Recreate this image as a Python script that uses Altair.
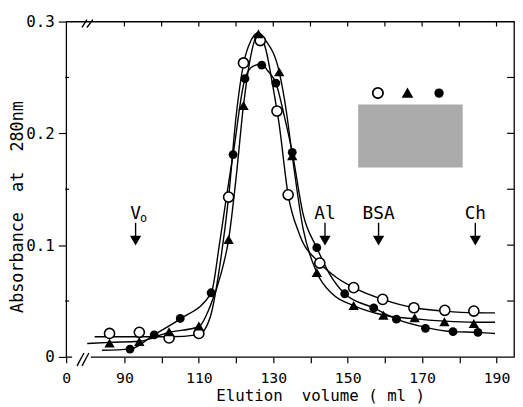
import altair as alt
import pandas as pd

FONT = "DejaVu Sans Mono"
W, H = 454, 340
NB = "\u00a0"

# x axis is broken: its left end stands for 0 ml
X_MIN, X_MAX = 74.35, 194.7
Y_MIN, Y_MAX = 0.0, 0.3

# ---- measured points -------------------------------------------------------
open_x = [86, 94, 102, 110, 118, 122, 126.5, 131, 134, 142.5, 151.6, 159.4, 167.8, 176.1, 183.9]
open_y = [0.021, 0.022, 0.017, 0.021, 0.143, 0.263, 0.283, 0.220, 0.145, 0.084, 0.062, 0.0515, 0.044, 0.0417, 0.041]

tri_x = [86, 94, 102, 110, 118, 122, 126, 131.6, 135.1, 141.7, 151.6, 159.6, 168, 176, 183.9]
tri_y = [0.0124, 0.0138, 0.0226, 0.0276, 0.105, 0.225, 0.289, 0.255, 0.18, 0.0756, 0.046, 0.0373, 0.035, 0.0315, 0.030]

fill_x = [91.5, 98, 105, 113.3, 119.2, 122.4, 126.9, 130.7, 135.1, 141.7, 149.2, 157, 163.1, 170.9, 178.3, 185]
fill_y = [0.007, 0.0197, 0.0344, 0.0574, 0.181, 0.249, 0.261, 0.245, 0.183, 0.0977, 0.0565, 0.0438, 0.0338, 0.0256, 0.0226, 0.022]

# ---- drawn curves ----------------------------------------------------------
curve_open_x = [82, 102, 110, 113, 116, 118, 120, 122, 124, 126, 128, 130, 131.5, 134, 137, 142.5, 147, 151.6, 159.4, 167.8, 176, 184, 189.6]
curve_open_y = [0.018, 0.018, 0.020, 0.035, 0.09, 0.143, 0.215, 0.262, 0.283, 0.290, 0.275, 0.240, 0.210, 0.145, 0.110, 0.084, 0.071, 0.062, 0.0515, 0.044, 0.041, 0.0395, 0.0394]

curve_tri_x = [80, 86, 94, 102, 110, 113, 116, 118, 120, 122, 124, 126, 128, 131.6, 133.5, 135.1, 138, 141.7, 146, 151.6, 159.6, 168, 176, 184, 189.6]
curve_tri_y = [0.012, 0.013, 0.014, 0.022, 0.027, 0.045, 0.075, 0.105, 0.16, 0.225, 0.27, 0.290, 0.283, 0.255, 0.22, 0.18, 0.115, 0.0756, 0.056, 0.046, 0.0375, 0.034, 0.032, 0.031, 0.031]

curve_fill_x = [84, 91.5, 98, 105, 113.3, 115.5, 117.5, 119.2, 122.4, 124.5, 126.9, 128.5, 130.7, 133, 135.1, 138, 141.7, 145, 149.2, 157, 163.1, 170.9, 178.3, 185, 189.6]
curve_fill_y = [0.006, 0.007, 0.02, 0.034, 0.057, 0.1, 0.145, 0.181, 0.249, 0.26, 0.262, 0.256, 0.245, 0.215, 0.183, 0.128, 0.0977, 0.075, 0.0565, 0.0438, 0.0338, 0.0265, 0.0226, 0.022, 0.021]

# ---- marker arrows ----------------------------------------------------------
marker_x = [93.0, 143.9, 158.3, 184.3]
marker_label = ["V", "Al", "BSA", "Ch"]

x_tick_values = [X_MIN] + list(range(90, 191, 10))
top_tick_values = list(range(90, 191, 10))
y_tick_values = [0.0, 0.1, 0.2, 0.3]
right_tick_values = [0.05, 0.1, 0.15, 0.2, 0.25]
left_minor_values = [0.05, 0.15, 0.25]

xscale = alt.Scale(domain=[X_MIN, X_MAX], nice=False, zero=False)
yscale = alt.Scale(domain=[Y_MIN, Y_MAX], nice=False, zero=False)

x_axis = alt.Axis(
    values=x_tick_values,
    labelExpr="datum.value < 80 ? '0' : (datum.value % 20 == 10 ? format(datum.value, '.0f') : '')",
    domain=False, grid=False, tickSize=6, tickColor="black", tickWidth=1.2,
    labelFont=FONT, labelFontSize=15, labelColor="black", labelPadding=8,
    labelFlush=False, labelOverlap=False, title=None,
)
y_axis = alt.Axis(
    values=y_tick_values,
    labelExpr="datum.value == 0 ? '0' : format(datum.value, '.1f')",
    domain=False, grid=False, tickSize=8, tickColor="black", tickWidth=1.2,
    labelFont=FONT, labelFontSize=16, labelColor="black", labelPadding=4,
    labelFlush=False, labelOverlap=False, title=None,
)


def X(field):
    return alt.X(field, scale=xscale, axis=x_axis)


def Y(field):
    return alt.Y(field, scale=yscale, axis=y_axis)


curves = pd.DataFrame({
    "x": curve_open_x + curve_tri_x + curve_fill_x,
    "y": curve_open_y + curve_tri_y + curve_fill_y,
    "s": ["open"] * len(curve_open_x) + ["tri"] * len(curve_tri_x) + ["fill"] * len(curve_fill_x),
})

lines = alt.Chart(curves).mark_line(color="black", strokeWidth=1.4, interpolate="monotone").encode(
    x=X("x:Q"), y=Y("y:Q"), detail="s:N",
)

pts_open = alt.Chart(pd.DataFrame({"x": open_x, "y": open_y})).mark_point(
    shape="circle", filled=True, fill="white", stroke="black", strokeWidth=1.6, size=105, opacity=1
).encode(x=X("x:Q"), y=Y("y:Q"))

pts_tri = alt.Chart(pd.DataFrame({"x": tri_x, "y": tri_y})).mark_point(
    shape="triangle-up", filled=True, color="black", size=110, opacity=1
).encode(x=X("x:Q"), y=Y("y:Q"))

pts_fill = alt.Chart(pd.DataFrame({"x": fill_x, "y": fill_y})).mark_point(
    shape="circle", filled=True, color="black", size=80, opacity=1
).encode(x=X("x:Q"), y=Y("y:Q"))

# inward ticks on top and right, small minor ticks on the left
top_ticks = alt.Chart(pd.DataFrame({"x": top_tick_values})).mark_rule(color="black", strokeWidth=1.2).encode(
    x=X("x:Q"), y=alt.value(0), y2=alt.value(5))
right_ticks = alt.Chart(pd.DataFrame({"y": right_tick_values})).mark_rule(color="black", strokeWidth=1.2).encode(
    y=Y("y:Q"), x=alt.value(W - 7), x2=alt.value(W))
left_minor = alt.Chart(pd.DataFrame({"y": left_minor_values})).mark_rule(color="black", strokeWidth=1.2).encode(
    y=Y("y:Q"), x=alt.value(-1), x2=alt.value(3))

# marker arrows
mk = pd.DataFrame({"x": marker_x, "label": marker_label})
mk_text = alt.Chart(mk).mark_text(font=FONT, fontSize=18, color="black", baseline="middle", align="center").encode(
    x=X("x:Q"), y=alt.value(195), text="label:N")
mk_sub = alt.Chart(pd.DataFrame({"x": [marker_x[0]], "t": ["o"]})).mark_text(
    font=FONT, fontSize=12, color="black", baseline="middle", align="center", dx=8).encode(
    x=X("x:Q"), y=alt.value(199), text="t:N")
mk_shaft = alt.Chart(mk).mark_rule(color="black", strokeWidth=1.4).encode(
    x=X("x:Q"), y=alt.value(204), y2=alt.value(218))
mk_head = alt.Chart(mk).mark_point(shape="triangle-down", filled=True, color="black", size=130, opacity=1).encode(
    x=X("x:Q"), y=alt.value(222))

# key: symbols above a stippled grey box
key_box = alt.Chart(pd.DataFrame({"a": [0]})).mark_rect(color="#ababab").encode(
    x=alt.value(296), x2=alt.value(402), y=alt.value(84), y2=alt.value(148))
key_open = alt.Chart(pd.DataFrame({"a": [0]})).mark_point(
    shape="circle", filled=True, fill="white", stroke="black", strokeWidth=1.8, size=110, opacity=1
).encode(x=alt.value(316), y=alt.value(72.5))
key_tri = alt.Chart(pd.DataFrame({"a": [0]})).mark_point(
    shape="triangle-up", filled=True, color="black", size=140, opacity=1
).encode(x=alt.value(346), y=alt.value(72))
key_fill = alt.Chart(pd.DataFrame({"a": [0]})).mark_point(
    shape="circle", filled=True, color="black", size=90, opacity=1
).encode(x=alt.value(378), y=alt.value(72.5))

# axis break marks
gap = alt.Chart(pd.DataFrame({"a": [0]})).mark_rule(color="white", strokeWidth=4).encode(
    x=alt.value(6), x2=alt.value(25), y=alt.value(H), y2=alt.value(H))
slashes = []
for (x1, y1, x2, y2) in [(11, 349, 18, 336), (16, 349, 23, 336), (16, 6, 21, -2), (21, 6, 27, -2)]:
    slashes.append(alt.Chart(pd.DataFrame({"a": [0]})).mark_rule(color="black", strokeWidth=1.4).encode(
        x=alt.value(x1), x2=alt.value(x2), y=alt.value(y1), y2=alt.value(y2)))

# axis titles
ytitle = alt.Chart(pd.DataFrame({"t": [f"Absorbance{NB}{NB}at{NB}{NB}280nm"]})).mark_text(
    font=FONT, fontSize=17, color="black", angle=270, baseline="middle", align="center").encode(
    x=alt.value(-49), y=alt.value(188), text="t:N")
xtitle = alt.Chart(pd.DataFrame({"t": [f"Elution{NB}{NB}volume{NB}({NB}ml{NB})"]})).mark_text(
    font=FONT, fontSize=16, color="black", baseline="middle", align="center").encode(
    x=alt.value(258), y=alt.value(380), text="t:N")

chart = alt.layer(
    lines, pts_open, pts_tri, pts_fill, top_ticks, right_ticks, left_minor,
    mk_text, mk_sub, mk_shaft, mk_head, key_box, key_open, key_tri, key_fill,
    gap, *slashes, ytitle, xtitle,
).properties(
    width=W, height=H,
    autosize=alt.AutoSizeParams(type="none"),
    padding={"left": 59, "top": 11, "right": 1, "bottom": 48},
    background="white",
).configure_view(stroke="black", strokeWidth=1.3)

chart.save("out.html", embed_options={"renderer": "svg", "actions": False})
